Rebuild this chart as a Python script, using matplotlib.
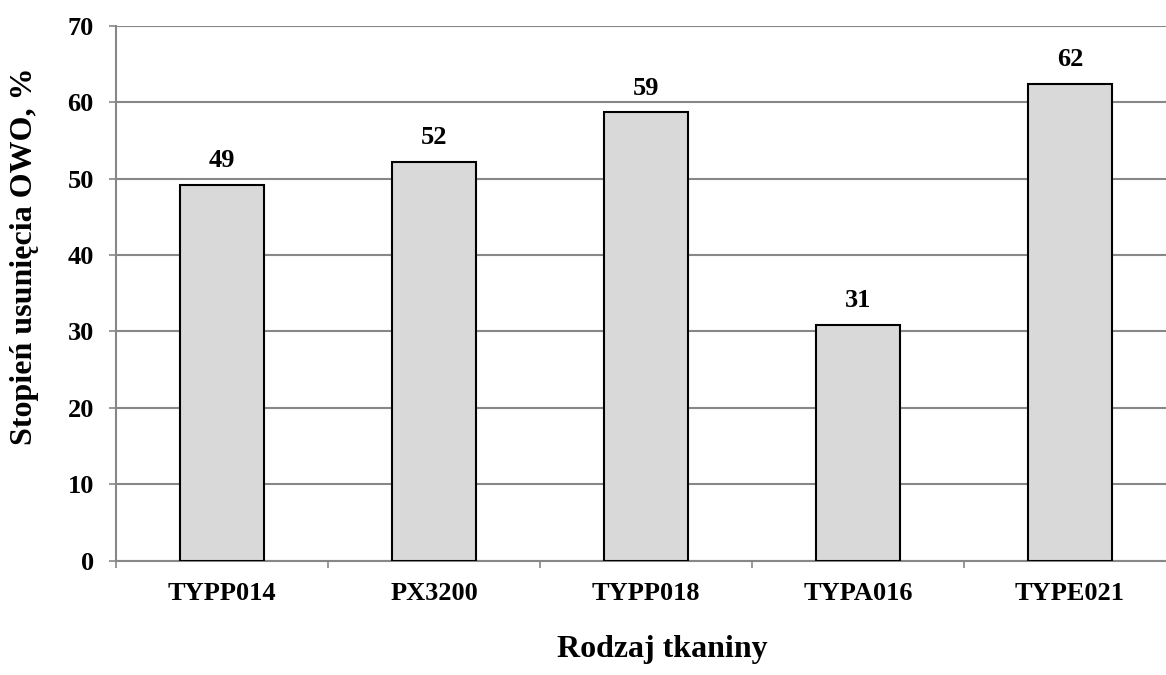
import matplotlib
matplotlib.use("Agg")
import matplotlib.pyplot as plt
from matplotlib.ticker import FixedLocator, NullFormatter

# Fabric types and OWO removal degree (%)
fabrics = ["TYPP014", "PX3200", "TYPP018", "TYPA016", "TYPE021"]
removal = [49.2, 52.2, 58.7, 30.9, 62.4]
y_ticks = [0, 10, 20, 30, 40, 50, 60, 70]

plt.rcParams["font.family"] = ["Liberation Serif", "DejaVu Serif"]
plt.rcParams["font.weight"] = "bold"

W, H, DPI = 1166, 675, 100
fig = plt.figure(figsize=(W / DPI, H / DPI), dpi=DPI)

# plot area in pixel terms (the right part runs past the canvas edge)
left_px, right_px, top_px, bottom_px = 116, 1176, 25.7, 560.7
ax = fig.add_axes([left_px / W, (H - bottom_px) / H,
                   (right_px - left_px) / W, (bottom_px - top_px) / H])

grid_c = "#878787"
x = list(range(len(fabrics)))
ax.bar(x, removal, width=0.40, color="#d9d9d9", edgecolor="black",
       linewidth=1.5, zorder=3)

for xi, v in zip(x, removal):
    ax.annotate(f"{v:.0f}", (xi, v), xytext=(0, 9), textcoords="offset points",
                ha="center", va="bottom", fontsize=19, fontweight="bold")

ax.set_xlim(-0.5, len(fabrics) - 0.5)
ax.set_ylim(0, 70)
ax.set_yticks(y_ticks)
ax.set_yticklabels([str(t) for t in y_ticks])
ax.yaxis.grid(True, color=grid_c, linewidth=1.5, zorder=0)
ax.set_axisbelow(True)

# category boundaries carry the tick marks, centres carry the labels
ax.xaxis.set_major_locator(FixedLocator([i - 0.5 for i in range(len(fabrics) + 1)]))
ax.xaxis.set_major_formatter(NullFormatter())
ax.xaxis.set_minor_locator(FixedLocator(x))
ax.set_xticklabels(fabrics, minor=True)
ax.tick_params(axis="x", which="major", length=5, width=1.2, color=grid_c, direction="out")
ax.tick_params(axis="x", which="minor", length=0, pad=15, labelsize=19)
ax.tick_params(axis="y", length=5, width=1.2, color=grid_c, direction="out",
               pad=11, labelsize=19)

for lbl in ax.get_xticklabels(minor=True) + ax.get_yticklabels():
    lbl.set_fontweight("bold")

for side in ("top", "right"):
    ax.spines[side].set_visible(False)
for side in ("left", "bottom"):
    ax.spines[side].set_color(grid_c)
    ax.spines[side].set_linewidth(1.5)

fig.text(662 / W, 1 - 650 / H, "Rodzaj tkaniny", ha="center", va="center",
         fontsize=23, fontweight="bold")
fig.text(25 / W, 1 - 256 / H, "Stopień usunięcia OWO, %", ha="center", va="center",
         rotation=90, fontsize=23, fontweight="bold")

fig.savefig("out.png", dpi=DPI)
